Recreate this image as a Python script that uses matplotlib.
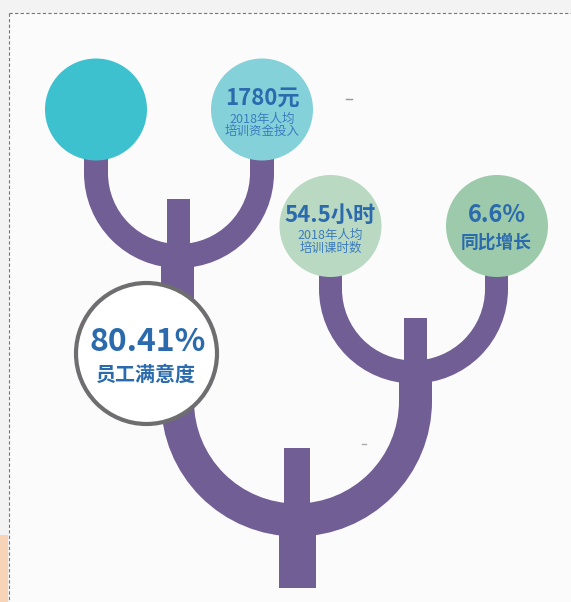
import matplotlib.pyplot as plt
from matplotlib.patches import Circle, Rectangle, Wedge

plt.rcParams['font.family'] = ['Noto Sans CJK SC', 'DejaVu Sans']

# 数据
main_value = '80.41%'
main_label = '员工满意度'
leaf_values = ['', '1780元', '54.5小时', '6.6%']
leaf_notes = ['', '2018年人均\n培训资金投入', '2018年人均\n培训课时数', '']
leaf_labels = ['', '', '', '同比增长']

# 颜色
purple = '#715e94'
leaf_colors = ['#3dc1cf', '#84d1da', '#b9d9c3', '#9ccaaa']
blue = '#2a6aad'
blue2 = '#3c7cbd'

# 圆的位置 (像素)
leaf_xy = [(96, 109.5), (262, 109.5), (330.5, 226), (497, 226)]
r_leaf = 51

fig = plt.figure(figsize=(5.71, 6.02), dpi=100)
fig.patch.set_facecolor('#f3f3f3')
ax = fig.add_axes([0, 0, 1, 1])
ax.set_xlim(0, 571)
ax.set_ylim(602, 0)
ax.axis('off')

# 背景和虚线框
ax.add_patch(Rectangle((9, 13), 562, 589, fc='#fbfbfb', ec='none', zorder=0))
ax.plot([9, 571], [13, 13], ls=(0, (3, 2)), color='#777777', lw=0.8, zorder=1)
ax.plot([9, 9], [13, 602], ls=(0, (3, 2)), color='#777777', lw=0.8, zorder=1)
ax.add_patch(Rectangle((0, 535), 8, 67, fc='#f7d4b7', ec='none', zorder=1))


def u_branch(cx, cy, r_out, w, top_l, top_r):
    # 半圆 + 两边竖直的枝
    ax.add_patch(Wedge((cx, cy), r_out, 0, 180, width=w, fc=purple, ec='none', zorder=2))
    for x0, top in ((cx - r_out, top_l), (cx + r_out - w, top_r)):
        ax.add_patch(Rectangle((x0, top), w, cy - top + 0.5, fc=purple, ec='none', zorder=2))


def rect(x, y, w, h):
    ax.add_patch(Rectangle((x, y), w, h, fc=purple, ec='none', zorder=2))


# 左上 U
u_branch(179, 173, 95, 24, 109, 109)
rect(167, 199, 23, 55)

# 右边 U
u_branch(413.5, 289, 94.5, 23, 226, 226)
rect(404, 318, 23, 55)

# 大 U
u_branch(296.5, 401, 135.5, 33, 250, 370)
rect(284, 448, 26, 65)
rect(279, 520, 37, 68)

# 叶子圆
for (x, y), c, v, n, l in zip(leaf_xy, leaf_colors, leaf_values, leaf_notes, leaf_labels):
    ax.add_patch(Circle((x, y), r_leaf, fc=c, ec='none', zorder=3))
    if v and n:
        ax.text(x, y - 11, v, ha='center', va='center', fontsize=16,
                fontweight='bold', color=blue, zorder=4)
        ax.text(x, y + 16, n, ha='center', va='center', fontsize=9,
                color=blue2, linespacing=0.95, zorder=4)
    elif v:
        ax.text(x, y - 11, v, ha='center', va='center', fontsize=17,
                fontweight='bold', color=blue, zorder=4)
        ax.text(x - 1, y + 17, l, ha='center', va='center', fontsize=12.8,
                fontweight='bold', color=blue, zorder=4)

# 满意度圆
ax.add_patch(Circle((146.5, 353.5), 70.5, fc='white', ec='#6e6e70', lw=3, zorder=5))
ax.text(148, 342, main_value, ha='center', va='center', fontsize=23,
        fontweight='bold', color=blue, zorder=6)
ax.text(146, 374, main_label, ha='center', va='center', fontsize=14.4,
        fontweight='bold', color=blue, zorder=6)

# 小杂点
ax.plot([346, 352], [99, 99], color='#999999', lw=1, zorder=2)
ax.plot([362, 366], [444, 444], color='#aaaaaa', lw=1, zorder=2)

fig.savefig('out.png', dpi=100, facecolor=fig.get_facecolor())
